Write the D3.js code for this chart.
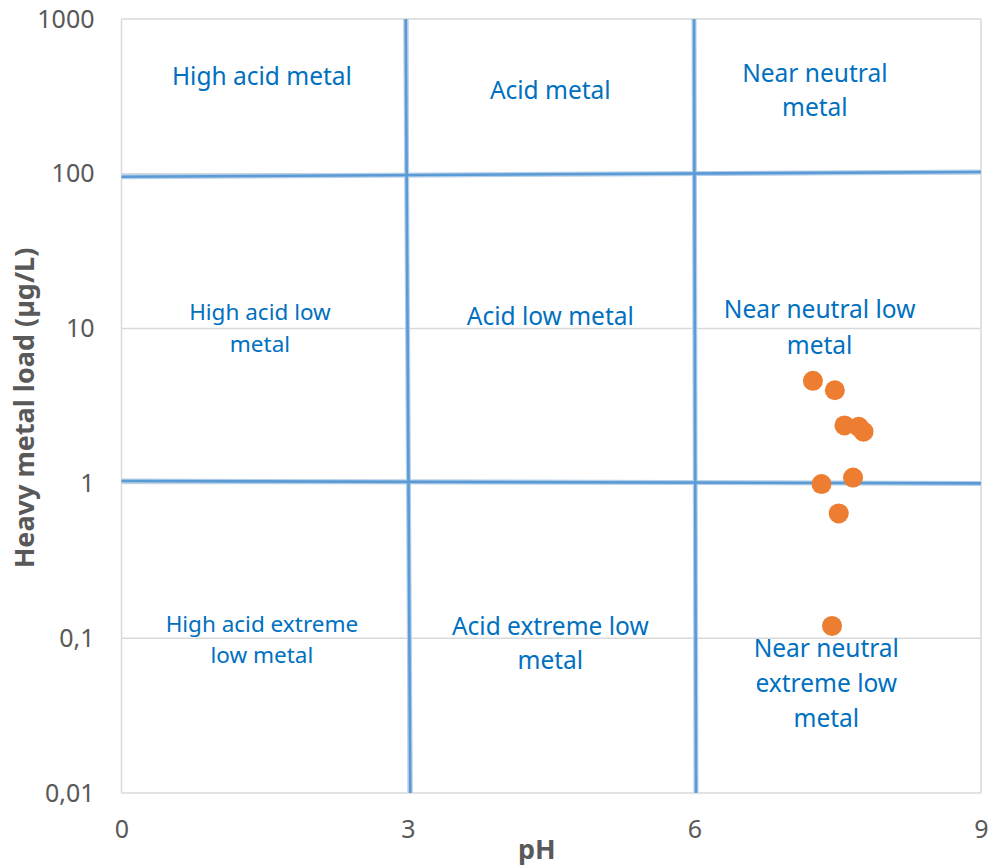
<!DOCTYPE html>
<html><head><meta charset="utf-8">
<script src="https://cdn.jsdelivr.net/npm/d3@7"></script>
<style>body{margin:0;background:#fff}svg{display:block}</style>
</head><body>
<script>
// Data
const phValues = [7.24, 7.47, 7.57, 7.72, 7.77, 7.33, 7.66, 7.51, 7.44];
const metalValues = [4.6, 4.0, 2.37, 2.32, 2.16, 0.99, 1.09, 0.64, 0.12];
const xTicks = [0, 3, 6, 9];
const yTicks = [0.01, 0.1, 1, 10, 100, 1000];
const yTickLabels = ["0,01", "0,1", "1", "10", "100", "1000"];
// Region boundary lines (data units, slightly hand-drawn)
const boundaries = [
  {x1: 2.976, y1: 1000, x2: 3.024, y2: 0.01},
  {x1: 5.995, y1: 1000, x2: 6.016, y2: 0.01},
  {x1: 0, y1: 95.8, x2: 9, y2: 102.8},
  {x1: 0, y1: 1.036, x2: 9, y2: 1.0}
];
// Region labels: center in data units
const regionLabels = [
  {lines: ["High acid metal"], ph: 1.47, logy: 2.632, size: 24.5, lh: 34},
  {lines: ["Acid metal"], ph: 4.49, logy: 2.541, size: 24.5, lh: 34},
  {lines: ["Near neutral", "metal"], ph: 7.26, logy: 2.541, size: 24.5, lh: 34},
  {lines: ["High acid low", "metal"], ph: 1.45, logy: 1.004, size: 22.5, lh: 32},
  {lines: ["Acid low metal"], ph: 4.49, logy: 1.081, size: 24.5, lh: 34},
  {lines: ["Near neutral low", "metal"], ph: 7.31, logy: 1.01, size: 24.5, lh: 36},
  {lines: ["High acid extreme", "low metal"], ph: 1.47, logy: -1.008, size: 22.5, lh: 31},
  {lines: ["Acid extreme low", "metal"], ph: 4.49, logy: -1.031, size: 24.5, lh: 34},
  {lines: ["Near neutral", "extreme low", "metal"], ph: 7.38, logy: -1.289, size: 24.5, lh: 35}
];

const W = 989, H = 867;
const margin = {left: 121.5, right: W - 981, top: 19, bottom: H - 793};
const FONT = "'Noto Sans', 'Open Sans', sans-serif";

const svg = d3.select("body").append("svg").attr("width", W).attr("height", H);

const x = d3.scaleLinear().domain([0, 9]).range([margin.left, W - margin.right]);
const y = d3.scaleLog().domain([0.01, 1000]).range([H - margin.bottom, margin.top]);

// Gridlines
const grid = svg.append("g");
grid.selectAll("line.h").data(yTicks).join("line")
  .attr("x1", x(0)).attr("x2", x(9))
  .attr("y1", d => y(d)).attr("y2", d => y(d))
  .attr("stroke", "#d9d9d9").attr("stroke-width", 1.5);
grid.selectAll("line.v").data(xTicks).join("line")
  .attr("y1", y(0.01)).attr("y2", y(1000))
  .attr("x1", d => x(d)).attr("x2", d => x(d))
  .attr("stroke", "#d9d9d9").attr("stroke-width", 1.5);

// Boundary lines
const bl = svg.append("g");
bl.selectAll("line.o").data(boundaries).join("line")
  .attr("x1", d => x(d.x1)).attr("y1", d => y(d.y1))
  .attr("x2", d => x(d.x2)).attr("y2", d => y(d.y2))
  .attr("stroke", "#b4cfe9").attr("stroke-width", 5);
bl.selectAll("line.i").data(boundaries).join("line")
  .attr("x1", d => x(d.x1)).attr("y1", d => y(d.y1))
  .attr("x2", d => x(d.x2)).attr("y2", d => y(d.y2))
  .attr("stroke", "#5b9bd5").attr("stroke-width", 2.6);

// Axes (labels only)
const xAxis = d3.axisBottom(x).tickValues(xTicks).tickSize(0).tickPadding(27);
const gx = svg.append("g").attr("transform", `translate(0,${y(0.01)})`).call(xAxis);
gx.select(".domain").remove();
gx.selectAll("text").attr("font-family", FONT).attr("font-size", 25).attr("fill", "#595959");

const yAxis = d3.axisLeft(y).tickValues(yTicks).tickSize(0).tickPadding(27)
  .tickFormat((d, i) => yTickLabels[i]);
const gy = svg.append("g").attr("transform", `translate(${x(0)},0)`).call(yAxis);
gy.select(".domain").remove();
gy.selectAll("text").attr("font-family", FONT).attr("font-size", 25).attr("fill", "#595959");

// Region labels
const rl = svg.append("g").attr("font-family", FONT).attr("fill", "#0070c0").attr("text-anchor", "middle");
regionLabels.forEach(l => {
  const cx = x(l.ph), cy = y(Math.pow(10, l.logy));
  const n = l.lines.length;
  const t = rl.append("text").attr("font-size", l.size);
  l.lines.forEach((line, i) => {
    t.append("tspan").attr("x", cx)
      .attr("y", cy + (i - (n - 1) / 2) * l.lh)
      .attr("dy", "0.35em").text(line);
  });
});

// Points
svg.append("g").selectAll("circle").data(phValues.map((p, i) => [p, metalValues[i]])).join("circle")
  .attr("cx", d => x(d[0])).attr("cy", d => y(d[1])).attr("r", 10)
  .attr("fill", "#ed7d31");

// Axis titles
svg.append("text").attr("x", x(4.35)).attr("y", 850).attr("dy", "0.35em")
  .attr("text-anchor", "middle").attr("font-family", FONT).attr("font-weight", "bold")
  .attr("font-size", 27).attr("fill", "#595959").text("pH");
svg.append("text").attr("transform", `translate(25,${(y(0.01) + y(1000)) / 2 + 2}) rotate(-90)`)
  .attr("dy", "0.35em").attr("text-anchor", "middle").attr("font-family", FONT).attr("font-weight", "bold")
  .attr("font-size", 27).attr("fill", "#595959").text("Heavy metal load (µg/L)");
</script>
</body></html>
